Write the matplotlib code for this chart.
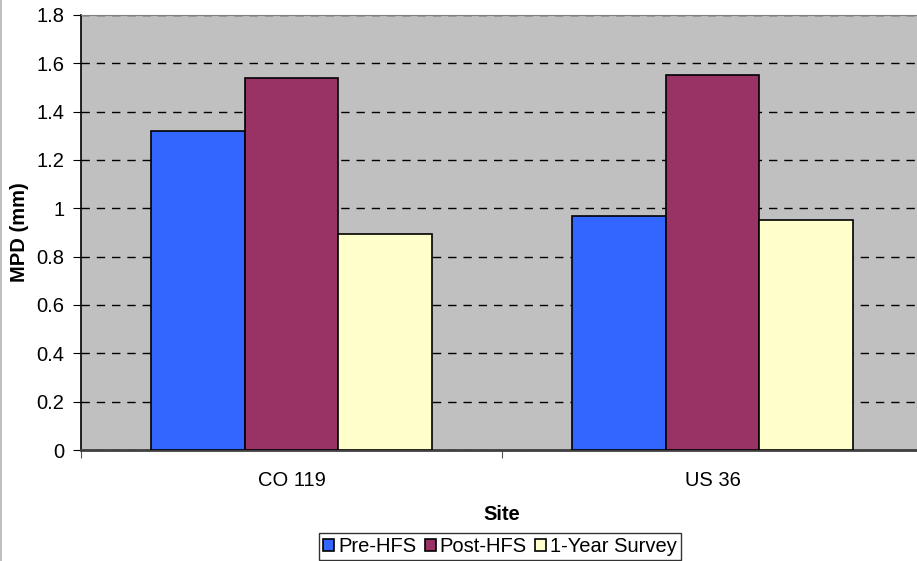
import numpy as np
import matplotlib.pyplot as plt
from matplotlib.lines import Line2D

# data
sites = ['CO 119', 'US 36']
series = ['Pre-HFS', 'Post-HFS', '1-Year Survey']
pre_hfs = [1.32, 0.97]
post_hfs = [1.54, 1.55]
one_year = [0.895, 0.95]
colors = ['#3366FF', '#993366', '#FFFFCC']

plt.rcParams['font.family'] = ['Liberation Sans', 'DejaVu Sans']
plt.rcParams['font.size'] = 14.5

W, H = 917, 561
fig = plt.figure(figsize=(W / 100, H / 100), dpi=100)
ax = fig.add_axes([81 / W, 1 - 450 / H, 842 / W, 435 / H])
ax.set_facecolor('#C0C0C0')

x = np.arange(len(sites))
bw = 0.223
vals = [pre_hfs, post_hfs, one_year]
for i in range(3):
    ax.bar(x + (i - 1) * bw, vals[i], bw, color=colors[i], edgecolor='black',
           linewidth=1.2, label=series[i], zorder=3)

ax.set_xlim(-0.5, 1.5)
ax.set_ylim(0, 1.8)
ax.set_yticks(np.arange(0, 1.81, 0.2))
ax.set_yticklabels(['0', '0.2', '0.4', '0.6', '0.8', '1', '1.2', '1.4', '1.6', '1.8'])
ax.yaxis.grid(True, color='black', linestyle=(0, (6, 5)), linewidth=1, zorder=1)
ax.set_axisbelow(True)

# category labels centred, ticks on the boundaries
ax.set_xticks([-0.5, 0.5, 1.5])
ax.set_xticklabels(['', '', ''])
ax.set_xticks(x, minor=True)
ax.set_xticklabels(sites, minor=True)
ax.tick_params(axis='x', which='minor', length=0, pad=15)
ax.tick_params(axis='x', which='major', length=6, color='#555555', direction='out')
ax.tick_params(axis='y', length=6, direction='out', pad=6)

ax.spines['right'].set_visible(False)
ax.spines['top'].set_color('#808080')
ax.spines['bottom'].set_color('#404040')
ax.spines['bottom'].set_linewidth(2)
ax.spines['left'].set_color('black')
ax.spines['left'].set_linewidth(1.2)

ax.set_ylabel('MPD (mm)', fontweight='bold', labelpad=5)
ax.set_xlabel('Site', fontweight='bold', labelpad=11)

leg = ax.legend(loc='upper center', bbox_to_anchor=(500 / W, 1 - 533 / H),
                bbox_transform=fig.transFigure, ncol=3, frameon=True,
                fancybox=False, edgecolor='black', handlelength=0.55,
                handleheight=0.55, handletextpad=0.2, columnspacing=0.4,
                borderpad=0.2, borderaxespad=0)
leg.get_frame().set_linewidth(1)

# chart border at left
fig.add_artist(Line2D([1 / W, 1 / W], [0, 1], transform=fig.transFigure,
                      color='#C0C0C0', linewidth=1.5))

fig.savefig('out.png', dpi=100)
